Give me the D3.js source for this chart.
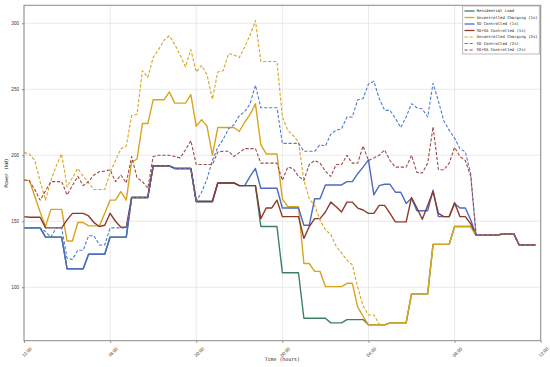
<!DOCTYPE html>
<html>
<head>
<meta charset="utf-8">
<script src="https://cdn.jsdelivr.net/npm/d3@7"></script>
<style>
  html, body { margin: 0; padding: 0; background: #fff; }
  svg { display: block; font-family: "DejaVu Sans Mono", "Liberation Mono", monospace; }
</style>
</head>
<body>
<div id="chart"></div>
<script>
// Time axis: 15 minute steps starting at 12:00
const startHour = 12;
const stepMinutes = 15;
const xTickHours = [0, 4, 8, 12, 16, 20, 24];
const xTickLabels = ["12:00", "16:00", "20:00", "00:00", "04:00", "08:00", "12:00"];
const yTicks = [100, 150, 200, 250, 300];

const seriesNames = [
  "Residential Load",
  "Uncontrolled Charging (1s)",
  "SD Controlled (1s)",
  "SD+SA Controlled (1s)",
  "Uncontrolled Charging (2s)",
  "SD Controlled (2s)",
  "SD+SA Controlled (2s)"
];

const residential = [
  145, 145, 145, 145, 138, 138, 138, 138, 114, 114, 114, 114,
  125, 125, 125, 125, 138, 138, 138, 138, 168, 168, 168, 168,
  192, 192, 192, 192, 190, 190, 190, 190, 165, 165, 165, 165,
  179, 179, 179, 179, 177, 177, 177, 177, 146, 146, 146, 146,
  111, 111, 111, 111, 76.5, 76.5, 76.5, 76.5, 76.5, 73, 73, 73,
  75.5, 75.5, 75.5, 75.5, 71.5, 71.5, 71.5, 71.5, 73, 73, 73, 73,
  95, 95, 95, 95, 132.5, 132.5, 132.5, 132.5, 146, 146, 146, 146,
  139.5, 139.5, 139.5, 139.5, 139.5, 140.5, 140.5, 140.5, 132, 132, 132, 132
];

const uncontrolled1s = [
  181, 181, 169, 157, 146, 159, 159, 159, 135, 135, 149, 149,
  146.5, 146.5, 146.5, 156, 166, 166, 172.5, 166, 195, 197, 224, 224,
  242, 242, 242, 248, 239.5, 239.5, 239.5, 246, 222, 227, 222, 200,
  221, 221, 221, 221, 218, 225, 231, 239, 208, 201, 201, 201,
  167, 161, 161, 161, 118, 118, 112, 112, 100.5, 100.5, 100.5, 100.5,
  103, 103, 85, 78, 71.5, 71.5, 71.5, 71.5, 73, 73, 73, 73,
  95, 95, 95, 95, 132.5, 132.5, 132.5, 132.5, 146, 146, 146, 146,
  139.5, 139.5, 139.5, 139.5, 139.5, 140.5, 140.5, 140.5, 132, 132, 132, 132
];

const sdControlled1s = [
  145, 145, 145, 145, 138, 138, 138, 138, 114, 114, 114, 114,
  125, 125, 125, 125, 138, 138, 138, 138, 168, 168, 168, 168,
  192, 192, 192, 192, 190, 190, 190, 190, 165, 165, 165, 165,
  179, 179, 179, 179, 177, 177, 184, 190, 175, 175, 175, 175,
  160, 160, 160, 160, 147, 147, 167, 167, 177.5, 177.5, 177.5, 177.5,
  180, 180, 186, 191, 196.5, 170, 177, 178, 178, 172, 172, 163.5,
  167.5, 158, 158, 158, 173.5, 153.5, 153.5, 153.5, 163.5, 160, 160, 151,
  139.5, 139.5, 139.5, 139.5, 139.5, 140.5, 140.5, 140.5, 132, 132, 132, 132
];

const sdsaControlled1s = [
  153.5, 153, 153, 153, 145, 145, 145, 145, 151, 156, 156, 156,
  154, 149, 146, 147, 156, 150, 145.5, 145.5, 168, 168, 168, 168,
  192, 192, 192, 192, 190, 190, 190, 190, 165, 165, 165, 165,
  179, 179, 179, 179, 177, 177, 177, 177, 152, 160, 160, 166,
  153.5, 153.5, 153.5, 153.5, 137, 146, 152, 152, 157, 164.5, 161, 157,
  164.5, 164.5, 160, 158.5, 156, 156, 162, 162, 156, 149.5, 149.5, 149.5,
  168, 160, 151.5, 162, 172.5, 156, 153.5, 153.5, 164, 153.5, 153.5, 148,
  139.5, 139.5, 139.5, 139.5, 139.5, 140.5, 140.5, 140.5, 132, 132, 132, 132
];

const uncontrolled2s = [
  202, 201, 196, 180, 166, 181, 192, 201, 176, 183, 190, 184,
  179, 174, 174, 174, 187, 196, 205, 207, 230, 231, 264, 259,
  274, 280, 287, 290.5, 284, 276, 267, 280, 263, 268, 261, 242.5,
  263, 264, 277, 276, 274, 282, 291, 302, 271, 271, 271, 271,
  229, 219, 215, 210, 181, 167, 162, 151, 143.5, 140, 131, 126,
  120.5, 117, 100, 86, 79, 79, 72, 71.5, 73, 73, 73, 73,
  95, 95, 95, 95, 132.5, 132.5, 132.5, 132.5, 146, 146, 146, 146,
  139.5, 139.5, 139.5, 139.5, 139.5, 140.5, 140.5, 140.5, 132, 132, 132, 132
];

const sdControlled2s = [
  145, 145, 145, 145, 142, 138, 145, 145, 122, 121, 128, 128,
  139, 139, 132, 132, 145, 145, 145, 145, 168, 168, 168, 168,
  192, 192, 192, 192, 190, 190, 190, 190, 165, 172, 182, 196,
  206, 212, 220, 223, 230, 233, 239, 253, 236, 236, 236, 236,
  209, 209, 209, 209, 203, 203, 203, 208, 207, 216, 219, 220,
  229, 229, 242, 243, 254, 256, 243, 234, 234, 228, 221, 229,
  239, 236, 235, 229, 254.5, 241, 226, 219, 213, 205, 202.5, 186,
  139.5, 139.5, 139.5, 139.5, 139.5, 140.5, 140.5, 140.5, 132, 132, 132, 132
];

const sdsaControlled2s = [
  181.5, 180.5, 174, 166, 173, 180, 180, 180, 170, 177, 184, 177,
  180, 185, 187.5, 188, 189, 180, 185, 179, 199, 183, 180, 175,
  199, 200, 200, 200, 199, 198, 204, 211, 193, 193, 193, 193,
  202.5, 203, 203, 199, 202, 205, 205, 205, 194, 194, 194, 194,
  181, 191, 190, 184, 181, 193, 196, 194, 188, 184, 193, 193,
  200, 194, 194, 207, 196, 198, 200, 204, 196, 191, 191, 191,
  200, 187, 186.5, 194, 221.5, 189, 189, 194, 206, 199, 196, 184,
  139.5, 139.5, 139.5, 139.5, 139.5, 140.5, 140.5, 140.5, 132, 132, 132, 132
];

const seriesValues = [
  residential, uncontrolled1s, sdControlled1s, sdsaControlled1s,
  uncontrolled2s, sdControlled2s, sdsaControlled2s
];
const seriesColors = ["#3b8160", "#d9a520", "#4e6bc0", "#8c3b2a", "#d9a520", "#4f7bd0", "#a04848"];
const seriesDashed = [false, false, false, false, true, true, true];

const width = 550, height = 367;
const margin = { top: 5.3, right: 9.3, bottom: 26.3, left: 24 };
const innerW = width - margin.left - margin.right;
const innerH = height - margin.top - margin.bottom;

const svg = d3.select("#chart")
  .append("svg")
  .attr("width", width)
  .attr("height", height);

const g = svg.append("g")
  .attr("transform", `translate(${margin.left},${margin.top})`);

// hours since start -> x
const x = d3.scaleLinear().domain([0, 24]).range([0, innerW]);
const y = d3.scaleLinear().domain([59.5, 313.6]).range([innerH, 0]);

// grid
g.append("g")
  .selectAll("line")
  .data(xTickHours)
  .join("line")
  .attr("x1", d => x(d)).attr("x2", d => x(d))
  .attr("y1", 0).attr("y2", innerH)
  .attr("stroke", "#e3e3e3").attr("stroke-width", 0.8);

g.append("g")
  .selectAll("line")
  .data(yTicks)
  .join("line")
  .attr("x1", 0).attr("x2", innerW)
  .attr("y1", d => y(d)).attr("y2", d => y(d))
  .attr("stroke", "#e3e3e3").attr("stroke-width", 0.8);

// lines
const line = d3.line()
  .x((d, i) => x(i * stepMinutes / 60))
  .y(d => y(d));

seriesValues.forEach((vals, k) => {
  g.append("path")
    .datum(vals)
    .attr("fill", "none")
    .attr("stroke", seriesColors[k])
    .attr("stroke-width", seriesDashed[k] ? 1.1 : 1.4)
    .attr("stroke-dasharray", seriesDashed[k] ? "3.2,1.8" : null)
    .attr("stroke-linejoin", "round")
    .attr("d", line);
});

// frame
g.append("rect")
  .attr("width", innerW).attr("height", innerH)
  .attr("fill", "none").attr("stroke", "#8a8a8a").attr("stroke-width", 1);

// x axis
const xAxis = g.append("g")
  .attr("transform", `translate(0,${innerH})`)
  .call(d3.axisBottom(x).tickValues(xTickHours).tickSize(2).tickFormat((d, i) => xTickLabels[i]));
xAxis.select(".domain").remove();
xAxis.selectAll(".tick line").attr("stroke", "#8a8a8a");
xAxis.selectAll(".tick text")
  .attr("font-size", 4.6)
  .attr("fill", "#333")
  .attr("text-anchor", "end")
  .attr("dy", 0)
  .attr("transform", "translate(4,5) rotate(-45)");

// y axis
const yAxis = g.append("g")
  .call(d3.axisLeft(y).tickValues(yTicks).tickSize(2));
yAxis.select(".domain").remove();
yAxis.selectAll(".tick line").attr("stroke", "#8a8a8a");
yAxis.selectAll(".tick text").attr("font-size", 4.6).attr("fill", "#333");

// axis labels
svg.append("text")
  .attr("x", margin.left + innerW / 2).attr("y", 361)
  .attr("text-anchor", "middle")
  .attr("font-size", 4.9).attr("fill", "#222")
  .text("Time (hours)");

svg.append("text")
  .attr("transform", `translate(7.5,${margin.top + innerH / 2}) rotate(-90)`)
  .attr("text-anchor", "middle")
  .attr("font-size", 4.9).attr("fill", "#222")
  .text("Power (kW)");

// legend
const legend = svg.append("g").attr("transform", "translate(462.7,6)");
legend.append("rect")
  .attr("width", 76.6).attr("height", 48)
  .attr("fill", "#fff").attr("stroke", "#aaa").attr("stroke-width", 0.8);

seriesNames.forEach((name, k) => {
  const row = legend.append("g").attr("transform", `translate(0,${5 + k * 6.5})`);
  row.append("line")
    .attr("x1", 1.8).attr("x2", 11.8)
    .attr("stroke", seriesColors[k])
    .attr("stroke-width", seriesDashed[k] ? 1.1 : 1.3)
    .attr("stroke-dasharray", seriesDashed[k] ? "3.2,1.8" : null);
  row.append("text")
    .attr("x", 14).attr("dy", "0.35em")
    .attr("font-size", 3.9).attr("fill", "#222")
    .text(name);
});
</script>
</body>
</html>
